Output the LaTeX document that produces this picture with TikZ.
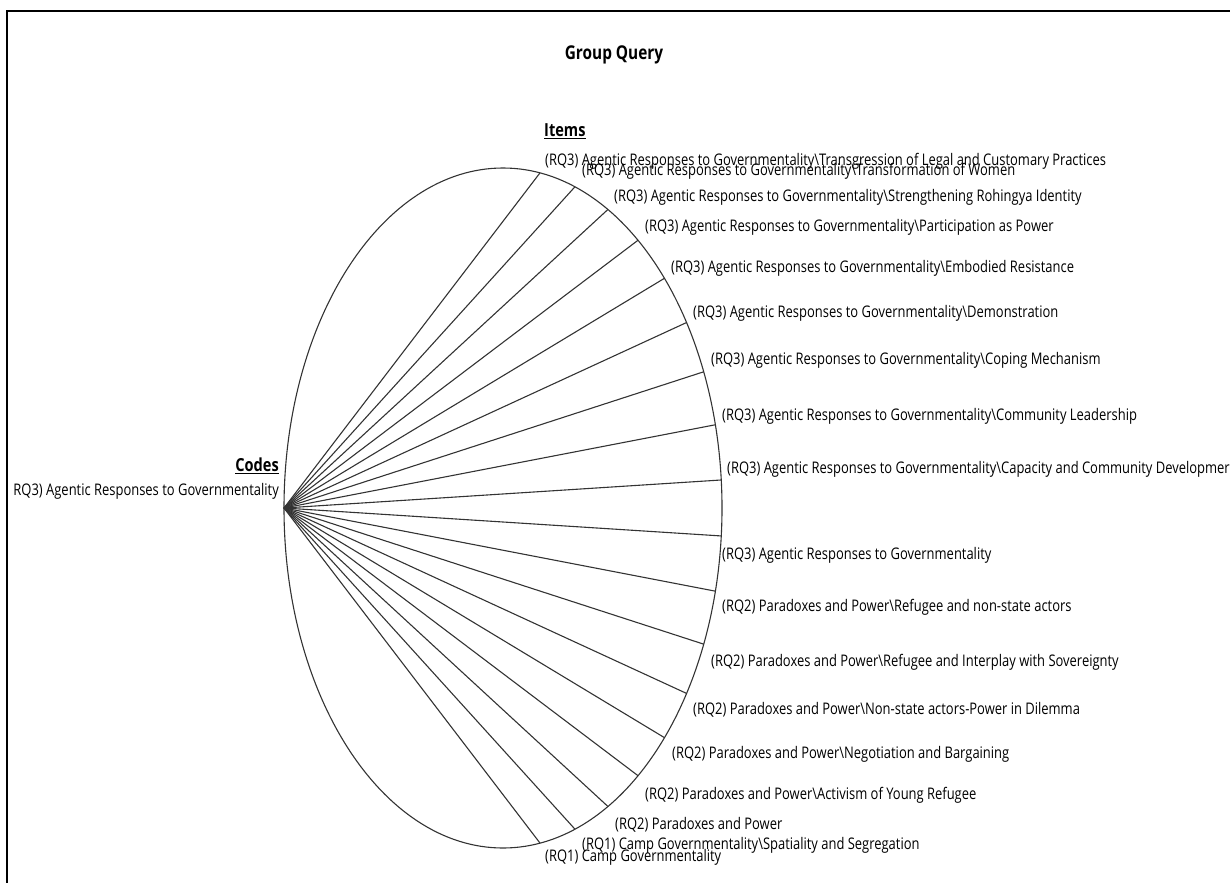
\documentclass[tikz,border=0pt]{standalone}
\usepackage{fontspec}
\setmainfont{Open Sans}[FakeStretch=0.81]
\usetikzlibrary{calc}
\tikzset{
  spoke/.style={draw=black!80, line width=1.1pt},
  rim/.style={draw=black!80, line width=1.1pt},
  lab/.style={anchor=west, inner sep=0pt, text=black, font=\fontsize{16}{19}\selectfont},
  head/.style={inner sep=0pt, text=black, font=\bfseries\fontsize{18}{21}\selectfont},
  frame/.style={draw=black, line width=2.2pt}
}
\begin{document}
\begin{tikzpicture}[x=1pt,y=-1pt]
\useasboundingbox (0,0) rectangle (1230,883);
% frame
\draw[frame] (1230,11) -- (7,11) -- (7,883);
% title and headings
\node[head, font=\bfseries\fontsize{19}{22}\selectfont] (title) at (614,55) {Group Query};
\node[head, anchor=west] (items) at (544,131) {\underline{Items}};
\node[head, anchor=east] (codes) at (279,466) {\underline{Codes}};
\node[lab, anchor=east] (code) at (279,491) {RQ3) Agentic Responses to Governmentality};
% ellipse
\coordinate (c) at (503,508);
\draw[rim] (c) ellipse [x radius=219pt, y radius=340pt];
\coordinate (hub) at (284,508);
% end points on the ellipse
\foreach \k in {0,...,17}{
  \pgfmathsetmacro{\ang}{80.28-9.444*\k}
  \coordinate (e\k) at ($(c)+(\ang:219pt and 340pt)$);
}
\foreach \k in {0,...,17}{
  \draw[spoke] (hub) -- (e\k);
}
% item labels
\node[lab] (i0) at (545,161) {(RQ3) Agentic Responses to Governmentality\textbackslash Transgression of Legal and Customary Practices};
\node[lab] (i1) at (582,171) {(RQ3) Agentic Responses to Governmentality\textbackslash Transformation of Women};
\node[lab] (i2) at (614,197) {(RQ3) Agentic Responses to Governmentality\textbackslash Strengthening Rohingya Identity};
\node[lab] (i3) at (645,227) {(RQ3) Agentic Responses to Governmentality\textbackslash Participation as Power};
\node[lab] (i4) at (671,268) {(RQ3) Agentic Responses to Governmentality\textbackslash Embodied Resistance};
\node[lab] (i5) at (693,313) {(RQ3) Agentic Responses to Governmentality\textbackslash Demonstration};
\node[lab] (i6) at (711,360) {(RQ3) Agentic Responses to Governmentality\textbackslash Coping Mechanism};
\node[lab] (i7) at (722,416) {(RQ3) Agentic Responses to Governmentality\textbackslash Community Leadership};
\node[lab] (i8) at (727,469) {(RQ3) Agentic Responses to Governmentality\textbackslash Capacity and Community Developmer};
\node[lab] (i9) at (722,555) {(RQ3) Agentic Responses to Governmentality};
\node[lab] (i10) at (722,607) {(RQ2) Paradoxes and Power\textbackslash Refugee and non-state actors};
\node[lab] (i11) at (711,662) {(RQ2) Paradoxes and Power\textbackslash Refugee and Interplay with Sovereignty};
\node[lab] (i12) at (693,710) {(RQ2) Paradoxes and Power\textbackslash Non-state actors-Power in Dilemma};
\node[lab] (i13) at (672,754) {(RQ2) Paradoxes and Power\textbackslash Negotiation and Bargaining};
\node[lab] (i14) at (645,795) {(RQ2) Paradoxes and Power\textbackslash Activism of Young Refugee};
\node[lab] (i15) at (615,825) {(RQ2) Paradoxes and Power};
\node[lab] (i16) at (582,845) {(RQ1) Camp Governmentality\textbackslash Spatiality and Segregation};
\node[lab] (i17) at (545,857) {(RQ1) Camp Governmentality};
\end{tikzpicture}
\end{document}
